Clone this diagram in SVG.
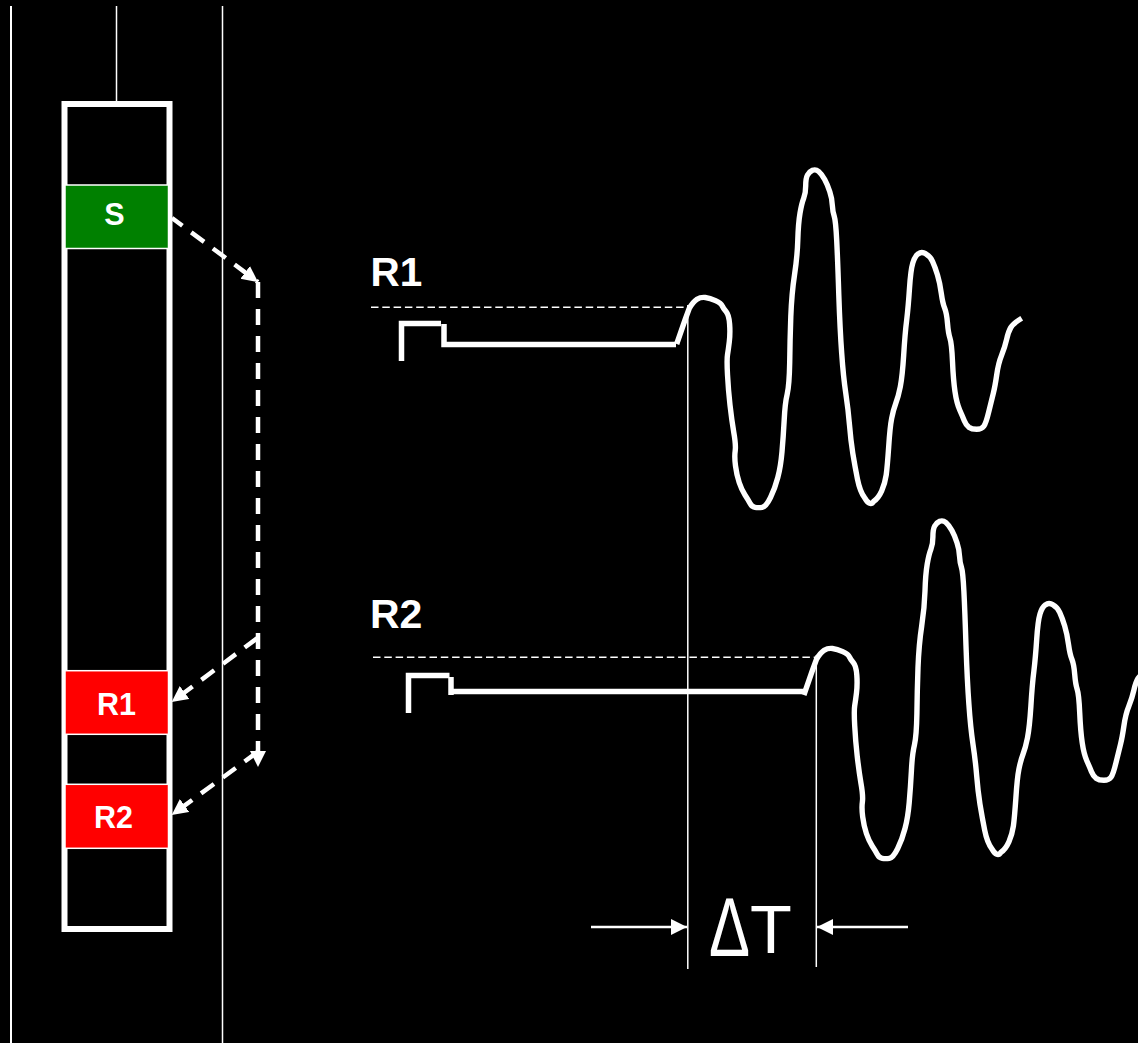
<svg xmlns="http://www.w3.org/2000/svg" width="1138" height="1043" viewBox="0 0 1138 1043">
<style>
.lbl{font-family:"Liberation Sans",Arial,sans-serif;font-weight:700;fill:#fff}
.box{stroke:#fff;stroke-width:1.5}
.thin{stroke:#fff;stroke-width:1.5;fill:none}
.dash{stroke:#fff;stroke-width:4.5;fill:none;stroke-dasharray:16 11}
.ref{stroke:#fff;stroke-width:1.5;fill:none;stroke-dasharray:7.5 3.8}
.wave{stroke:#fff;stroke-width:5.4;fill:none;stroke-linejoin:round}
.pulse{stroke:#fff;stroke-width:5.5;fill:none}
.dim{stroke:#fff;stroke-width:2.4;fill:none}
</style>
<defs>
<marker id="head" markerUnits="userSpaceOnUse" markerWidth="17" markerHeight="17" refX="16" refY="8.5" orient="auto"><path d="M0 0.5L16 8.5L0 16.5Z" fill="#fff"/></marker>
<path id="trace" class="wave" d="M676.7,344L685,320L689.3,308.3Q693.3,301.7 697,299.3Q700.7,297 705.3,297.5Q710,298 715.5,300.7Q721,303.3 722.2,305.8Q723.3,308.3 726.2,311.7Q729,315 729.6,324Q730.3,333.3 729.3,341.7Q728.3,350 727.5,354.7Q726.7,359.3 727.5,374.7Q728.3,390 730,405Q731.7,420 733.8,432.5Q736,445 735.2,450.8Q734.3,456.7 735.5,465.8Q736.7,475 739.2,482.5Q741.7,490 745,495Q748.3,500 750,503.3Q751.7,506.7 755,507.3Q758.3,508 762.2,507.3Q766,506.7 770.5,497.5Q775,488.3 777.8,477.5Q780.7,466.7 782,451.7Q783.3,436.7 784.2,420Q785,403.3 787.2,394.2Q789.3,385 789.7,362.5Q790,340 790.8,316.7Q791.7,293.3 794.5,275Q797.3,256.7 797.8,240Q798.3,223.3 800,213.3Q801.7,203.3 803.7,198.3Q805.7,193.3 805.7,185.8Q805.7,178.3 807.5,175Q809.3,171.7 812.5,170.3Q815.7,169 818.7,171.5Q821.7,174 824.7,179.5Q827.7,185 829.8,191.7Q832,198.3 832.3,205Q832.7,211.7 834.2,216.2Q835.7,220.7 836.7,240.3Q837.7,260 838.8,295Q840,330 841.7,353.3Q843.3,376.7 845.8,393.3Q848.3,410 849.5,425Q850.7,440 852.8,453.3Q855,466.7 857.5,479.2Q860,491.7 864.7,497.8Q870,507 873.8,501.2Q878.3,498.3 881.7,490.8Q885,483.3 886.2,475Q887.3,466.7 888.7,446.7Q890,426.7 891.7,418.3Q893.3,410 895.8,403.3Q898.3,396.7 900.3,386.7Q902.3,376.7 903.7,355Q905,333.3 906.7,320Q908.3,306.7 909.5,288.3Q910.7,270 912.8,263Q915,256 918.3,253.8Q921.7,251 925.8,253.8Q930,256 932.5,261.3Q935,266.7 937.5,275Q940,283.3 941.3,293.3Q942.7,303.3 944.7,308.3Q946.7,313.3 947.5,323.3Q948.3,333.3 950,338.3Q951.7,343.3 952.5,361.7Q953.3,380 955,391.7Q956.7,403.3 959.7,410Q962.7,416.7 964.3,420.8Q966,425 968.8,427.2Q971.7,429.3 976.7,429.3Q981.7,429.3 983.8,426.3Q986,423.3 988.8,411.7Q991.7,400 993.3,393.3Q995,386.7 996.7,375Q998.3,363.3 1001.7,355Q1005,346.7 1006.7,339.2Q1008.3,331.7 1010.8,327.5Q1013.3,323.3 1021.7,318.3"/>
</defs>
<rect width="1138" height="1043" fill="#000"/>
<g id="borehole">
<line x1="11" y1="6" x2="11" y2="1043" stroke="#fff" stroke-width="2"/>
<line class="thin" x1="222.5" y1="6" x2="222.5" y2="1043"/>
<line class="thin" x1="116.5" y1="6" x2="116.5" y2="102"/>
</g>
<g id="tool"><rect x="64.5" y="104" width="105" height="825" fill="#000" stroke="#fff" stroke-width="6"/></g>
<g id="node-s"><rect class="box" x="65" y="185" width="103.5" height="63.5" fill="#008000"/><text class="lbl" x="114.5" y="225" font-size="30.5" text-anchor="middle">S</text></g>
<g id="node-r1"><rect class="box" x="65" y="670.7" width="103.5" height="63.6" fill="#f00"/><text class="lbl" x="116.5" y="715" font-size="30.5" text-anchor="middle">R1</text></g>
<g id="node-r2"><rect class="box" x="65" y="784.3" width="103.5" height="64" fill="#f00"/><text class="lbl" x="113.5" y="828" font-size="30.5" text-anchor="middle">R2</text></g>
<g id="connectors">
<line class="dash" x1="172" y1="218" x2="258" y2="282" stroke-dashoffset="3" marker-end="url(#head)"/>
<line class="dash" x1="258" y1="282" x2="258" y2="767" marker-end="url(#head)"/>
<line class="dash" x1="257.5" y1="638" x2="171.7" y2="702" marker-end="url(#head)"/>
<line class="dash" x1="257.5" y1="752" x2="171.7" y2="815" marker-end="url(#head)"/>
</g>
<g id="trace-r1">
<text class="lbl" x="370.5" y="286" font-size="40.5">R1</text>
<line class="ref" x1="371" y1="307.3" x2="690" y2="307.3"/>
<polyline class="pulse" points="401.5,361 401.5,323.5 441,323.5"/>
<polyline class="pulse" points="444,324 444,344.5 676,344.5"/>
<use href="#trace"/>
</g>
<g id="trace-r2">
<text class="lbl" x="370" y="627.5" font-size="41">R2</text>
<line class="ref" x1="373" y1="657.3" x2="818" y2="657.3"/>
<polyline class="pulse" points="408.5,713 408.5,675.5 449.5,675.5"/>
<polyline class="pulse" points="451,677 451,695"/>
<polyline class="pulse" points="451,691.5 804,691.5"/>
<use href="#trace" transform="translate(127.2 351)"/>
</g>
<g id="delta-t">
<line class="thin" x1="687.8" y1="305" x2="687.8" y2="969"/>
<line class="thin" x1="816.3" y1="655" x2="816.3" y2="967"/>
<line class="dim" x1="591" y1="927" x2="687" y2="927" marker-end="url(#head)"/>
<line class="dim" x1="908" y1="927" x2="817" y2="927" marker-end="url(#head)"/>
<text font-family="'Liberation Sans',Arial,sans-serif" fill="#fff"><tspan x="709" y="956" font-size="84" textLength="41" lengthAdjust="spacingAndGlyphs">Δ</tspan><tspan x="750" y="953" font-size="68.5">T</tspan></text>
</g>
</svg>
